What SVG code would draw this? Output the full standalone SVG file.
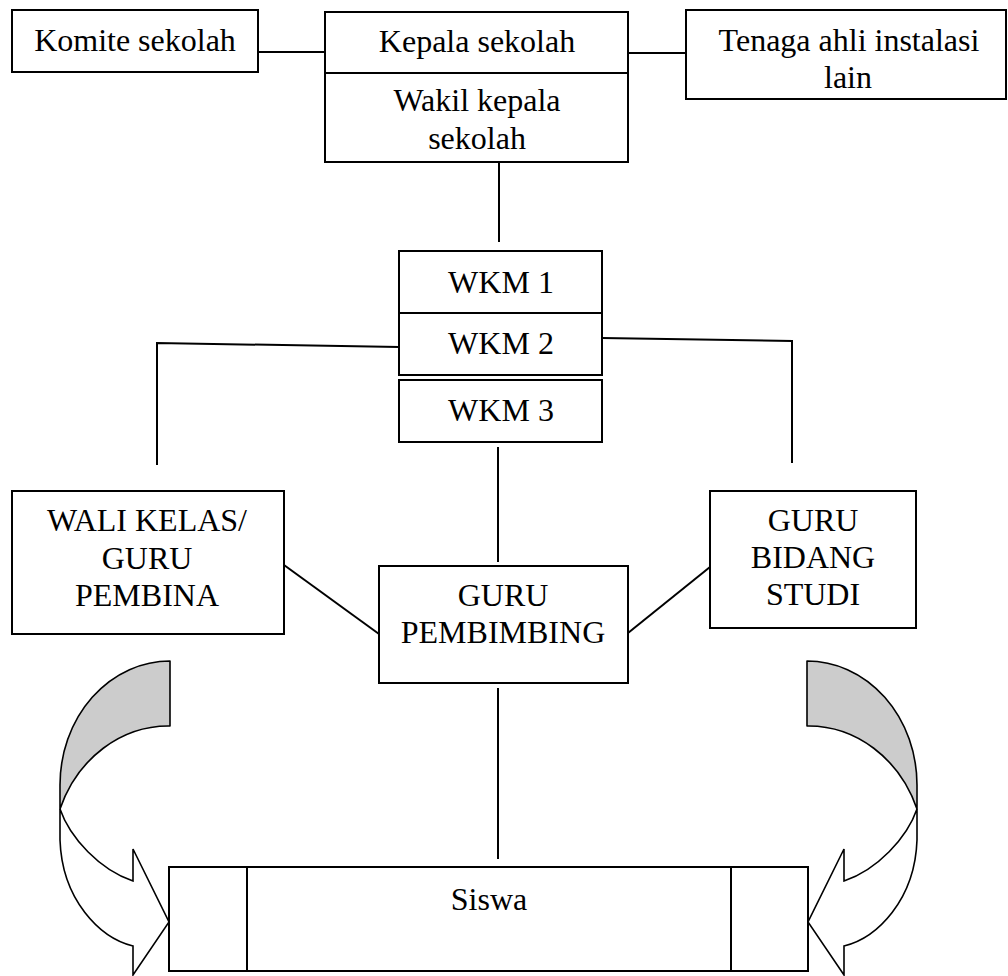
<svg xmlns="http://www.w3.org/2000/svg" width="1008" height="976" viewBox="0 0 1008 976">
<style>
.box{fill:#fff;stroke:#000;stroke-width:2}
.ln{fill:none;stroke:#000;stroke-width:2}
.t{font-family:"Liberation Serif","Times New Roman",serif;font-size:32px;fill:#000;text-anchor:middle}
.shade{fill:#cccccc;stroke:#000;stroke-width:1.6;stroke-linejoin:round}
.arw{fill:#fff;stroke:#000;stroke-width:1.6;stroke-linejoin:miter}
</style>
<rect width="1008" height="976" fill="#fff"/>
<g id="connectors">
<line class="ln" x1="258" y1="52" x2="325" y2="52"/>
<line class="ln" x1="628" y1="53" x2="686" y2="53"/>
<line class="ln" x1="499" y1="162" x2="499" y2="242"/>
<polyline class="ln" points="399,347 157,343 157,465"/>
<polyline class="ln" points="602,338 792,341 792,463"/>
<line class="ln" x1="498" y1="447" x2="498" y2="562"/>
<line class="ln" x1="284" y1="565" x2="379" y2="634"/>
<line class="ln" x1="628" y1="633" x2="710" y2="567"/>
<line class="ln" x1="498" y1="688" x2="498" y2="859"/>
</g>
<g id="komite">
<rect class="box" x="12" y="10" width="246" height="62"/>
<text class="t" x="135" y="51">Komite sekolah</text>
</g>
<g id="kepala">
<rect class="box" x="325" y="12" width="303" height="61"/>
<text class="t" x="477" y="52">Kepala sekolah</text>
</g>
<g id="wakil">
<rect class="box" x="325" y="73" width="303" height="89"/>
<text class="t" x="477" y="111">Wakil kepala</text>
<text class="t" x="477" y="149">sekolah</text>
</g>
<g id="tenaga">
<rect class="box" x="686" y="10" width="320" height="89"/>
<text class="t" x="849" y="51">Tenaga ahli instalasi</text>
<text class="t" x="848" y="88">lain</text>
</g>
<g id="wkm1">
<rect class="box" x="399" y="251" width="203" height="62"/>
<text class="t" x="501" y="293">WKM 1</text>
</g>
<g id="wkm2">
<rect class="box" x="399" y="313" width="203" height="62"/>
<text class="t" x="501" y="354">WKM 2</text>
</g>
<g id="wkm3">
<rect class="box" x="399" y="380" width="203" height="62"/>
<text class="t" x="501" y="421">WKM 3</text>
</g>
<g id="wali">
<rect class="box" x="12" y="491" width="272" height="143"/>
<text class="t" x="147" y="531">WALI KELAS/</text>
<text class="t" x="147" y="569">GURU</text>
<text class="t" x="147" y="606">PEMBINA</text>
</g>
<g id="pembimbing">
<rect class="box" x="379" y="566" width="249" height="117"/>
<text class="t" x="503" y="606">GURU</text>
<text class="t" x="503" y="643">PEMBIMBING</text>
</g>
<g id="bidang">
<rect class="box" x="710" y="491" width="206" height="137"/>
<text class="t" x="813" y="531">GURU</text>
<text class="t" x="813" y="568">BIDANG</text>
<text class="t" x="813" y="605">STUDI</text>
</g>
<g id="siswa">
<rect class="box" x="169" y="867" width="639" height="104"/>
<line class="ln" x1="247" y1="867" x2="247" y2="971"/>
<line class="ln" x1="731" y1="867" x2="731" y2="971"/>
<text class="t" x="489" y="910">Siswa</text>
</g>
<g id="arrow-left">
<path class="shade" d="M170,661 A110,124 0 0 0 60,785 L60,809 A116,129 0 0 1 170,726 Z"/>
<path class="arw" d="M60,809 C70,838 100,870 133,881 L133,849 L169,922 L133,975 L133,946 C100,938 62,900 60,840 Z"/>
</g>
<g id="arrow-right">
<path class="shade" d="M807,661 A110,124 0 0 1 917,785 L917,809 A116,129 0 0 0 807,726 Z"/>
<path class="arw" d="M917,809 C907,838 877,870 844,881 L844,849 L808,922 L844,975 L844,946 C877,938 915,900 917,840 Z"/>
</g>
</svg>
